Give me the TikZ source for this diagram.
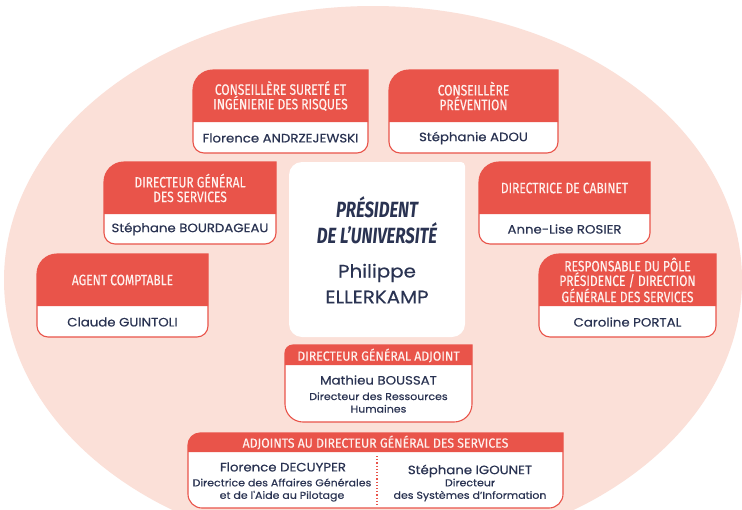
\documentclass[tikz,border=0pt]{standalone}
\usepackage{fontspec}
\setmainfont{Poppins}
\newfontfamily\headfont[FakeStretch=0.8,FakeBold=0.35]{Fira Sans}
\newfontfamily\headwide[FakeStretch=0.93,FakeBold=0.3]{Fira Sans}
\newfontfamily\titlefont[FakeStretch=0.76]{Fira Sans}
\newfontfamily\namefont[FakeStretch=1.1,FakeBold=0.4]{Poppins}
\definecolor{boxred}{HTML}{E9544A}
\definecolor{pinkbg}{HTML}{FBE0D8}
\definecolor{navy}{HTML}{2A3352}
\definecolor{headtxt}{HTML}{FFF1EE}
\newcommand\orgbox[7]{% L T R B M r1 r2
  \fill[white] (#1,-#2-#6) arc[start angle=180,end angle=90,radius=#6pt] -- (#3,-#2) -- (#3,-#4+#7) arc[start angle=0,end angle=-90,radius=#7pt] -- (#1+#7,-#4) arc[start angle=270,end angle=180,radius=#7pt] -- cycle;
  \fill[boxred] (#1,-#5) -- (#1,-#2-#6) arc[start angle=180,end angle=90,radius=#6pt] -- (#3,-#2) -- (#3,-#5) -- cycle;
  \draw[boxred,line width=1.1pt] (#1,-#2-#6) arc[start angle=180,end angle=90,radius=#6pt] -- (#3,-#2) -- (#3,-#4+#7) arc[start angle=0,end angle=-90,radius=#7pt] -- (#1+#7,-#4) arc[start angle=270,end angle=180,radius=#7pt] -- cycle;
}
\tikzset{
  head/.style={text=headtxt,font=\headfont\fontsize{15}{14.6}\selectfont,align=center,inner sep=0pt},
  smallhead/.style={text=headtxt,font=\headwide\fontsize{13.2}{13}\selectfont,align=center,inner sep=0pt},
  person/.style={text=navy,font=\namefont\fontsize{12.1}{14}\selectfont,inner sep=0pt},
  role/.style={text=navy,font=\namefont\fontsize{10}{12.5}\selectfont,align=center,inner sep=0pt},
  title/.style={text=navy,font=\titlefont\bfseries\itshape\fontsize{22}{26}\selectfont,inner sep=0pt},
  bigname/.style={text=navy,font=\namefont\fontsize{18}{24}\selectfont,inner sep=0pt},
}
\begin{document}
\begin{tikzpicture}[x=1pt,y=1pt]
\useasboundingbox (0,0) rectangle (742,-509);
\begin{scope}
\clip (0,0) rectangle (742,-509);
\fill[white] (0,0) rectangle (742,-509);
\fill[pinkbg] (373,-280) ellipse [x radius=369pt, y radius=274pt];
\end{scope}
% top row
\orgbox{193}{70}{368}{153}{122}{20}{11}
\node[head] (h1) at (280.5,-96) {CONSEILLÈRE SURETÉ ET\\INGÉNIERIE DES RISQUES};
\node[person] (n1) at (280.5,-138) {Florence ANDRZEJEWSKI};
\orgbox{389}{70}{558}{153}{122}{20}{11}
\node[head] (h2) at (473.5,-96) {CONSEILLÈRE\\PRÉVENTION};
\node[person] (n2) at (473.5,-138) {Stéphanie ADOU};
% second row
\orgbox{104}{162}{276}{244}{214}{20}{11}
\node[head] (h3) at (190,-188) {DIRECTEUR GÉNÉRAL\\DES SERVICES};
\node[person] (n3) at (190,-229) {Stéphane BOURDAGEAU};
\orgbox{479}{162}{650}{244}{214}{20}{11}
\node[head] (h5) at (564.5,-188) {DIRECTRICE DE CABINET};
\node[person] (n5) at (564.5,-229) {Anne-Lise ROSIER};
% third row
\orgbox{37}{254}{208}{337}{306}{20}{11}
\node[head] (h4) at (122.5,-280) {AGENT COMPTABLE};
\node[person] (n4) at (122.5,-322) {Claude GUINTOLI};
\orgbox{539}{254}{716}{337}{306}{20}{11}
\node[head] (h6) at (627.5,-280) {RESPONSABLE DU PÔLE\\PRÉSIDENCE / DIRECTION\\GÉNÉRALE DES SERVICES};
\node[person] (n6) at (627.5,-322) {Caroline PORTAL};
% center
\fill[white] (289,-175) arc[start angle=180,end angle=90,radius=13pt] -- (461,-162) arc[start angle=90,end angle=0,radius=4pt] -- (465,-324) arc[start angle=0,end angle=-90,radius=13pt] -- (302,-337) arc[start angle=270,end angle=180,radius=13pt] -- cycle;
\node[title] (t1) at (377,-207) {PRÉSIDENT};
\node[title] (t2) at (377,-233) {DE L’UNIVERSITÉ};
\node[bigname] (p1) at (377,-273) {Philippe};
\node[bigname] (p2) at (377,-297) {ELLERKAMP};
% DGA
\orgbox{285}{345}{472}{422}{365}{8}{18}
\node[smallhead] (h7) at (378.5,-355.5) {DIRECTEUR GÉNÉRAL ADJOINT};
\node[person] (n7) at (378.5,-380) {Mathieu BOUSSAT};
\node[role] (r7) at (378.5,-402.5) {Directeur des Ressources\\Humaines};
% adjoints
\orgbox{188}{433}{563}{508}{452}{12}{14}
\node[smallhead] (h8) at (375.5,-442.5) {ADJOINTS AU DIRECTEUR GÉNÉRAL DES SERVICES};
\draw[boxred,line width=1.2pt,dotted] (377,-456) -- (377,-506);
\node[person] (n8) at (283,-467) {Florence DECUYPER};
\node[role] (r8) at (282,-490) {Directrice des Affaires Générales\\et de l\symbol{39}Aide au Pilotage};
\node[person] (n9) at (470,-471) {Stéphane IGOUNET};
\node[role] (r9) at (470,-490) {Directeur\\des Systèmes d’Information};
\end{tikzpicture}
\end{document}
